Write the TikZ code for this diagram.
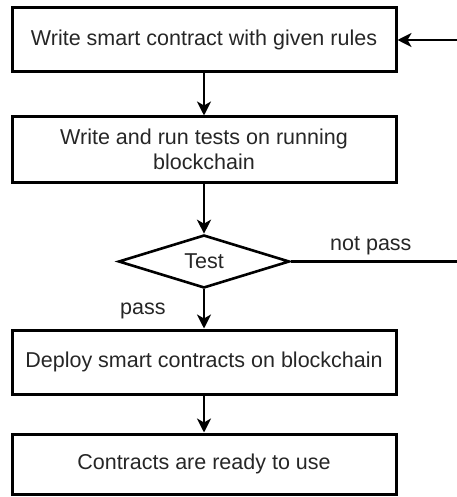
\documentclass[tikz,border=0pt]{standalone}
\usepackage{fontspec}
\setmainfont{Liberation Sans}
\usetikzlibrary{shapes.geometric,arrows.meta}
\begin{document}
\begin{tikzpicture}[x=1pt,y=-1pt,
  stepbox/.style={draw,line width=3pt,minimum width=384pt,inner sep=0pt,align=center,font=\fontsize{21.5}{25}\selectfont,text=black!85},
  flow/.style={line width=2.6pt,-{Stealth[length=14pt,width=14pt,inset=4pt]}},
  lbl/.style={font=\fontsize{21.5}{25}\selectfont,text=black!85,inner sep=0pt}]
\useasboundingbox (0,0) rectangle (456,497);
\node[stepbox,minimum height=64pt] (b1) at (204,40) {Write smart contract with given rules};
\node[stepbox,minimum height=65pt] (b2) at (204,149.5) {Write and run tests on running\\blockchain};
\node[draw,diamond,line width=2.6pt,minimum width=171pt,minimum height=53pt,inner sep=0pt,aspect=3.2,lbl] (d) at (204,261.5) {Test};
\node[stepbox,minimum height=64pt] (b3) at (204,362) {Deploy smart contracts on blockchain};
\node[stepbox,minimum height=60pt] (b4) at (204,464) {Contracts are ready to use};
\coordinate (r1) at (457,261.5);
\coordinate (r2) at (457,40);
\draw[flow] (b1) -- (b2);
\draw[flow] (b2) -- (d);
\draw[flow] (d) -- (b3);
\draw[flow] (b3) -- (b4);
\draw[line width=2.6pt] (d.east) -- (r1);
\draw[flow] (r2) -- (b1.east);
\node[lbl,anchor=base west] (np) at (330,250) {not pass};
\node[lbl,anchor=base west] (ps) at (120,314) {pass};
\end{tikzpicture}
\end{document}
